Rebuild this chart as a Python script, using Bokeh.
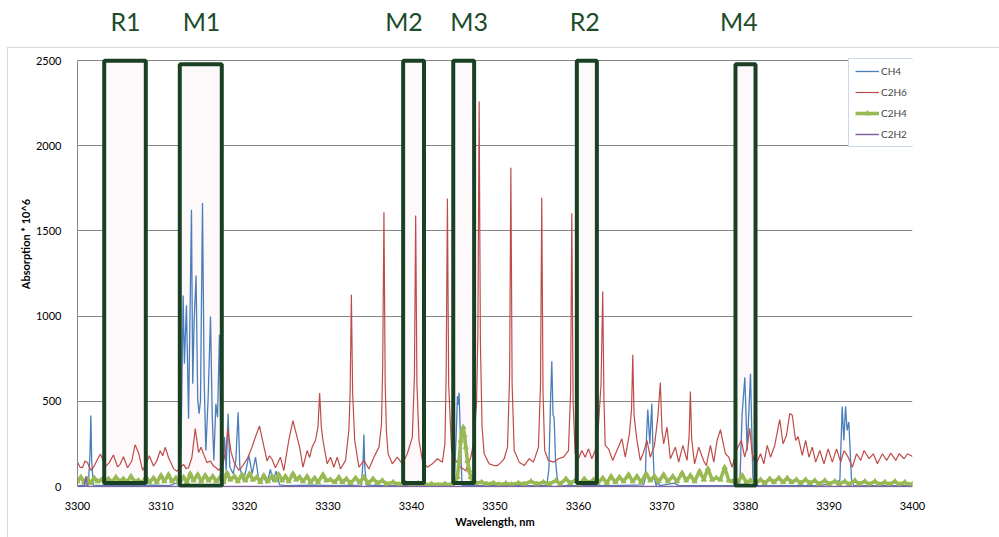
from bokeh.plotting import figure
from bokeh.models import Legend, LegendItem, FixedTicker, ColumnDataSource, Range1d
from bokeh.core.properties import value
from bokeh.embed import file_html
from bokeh.resources import INLINE

# ---------------- data ----------------
C2H6_X = [3300.0,3300.3,3300.6,3300.9,3301.2,3301.6,3302.0,3302.4,3302.75,3303.1,3303.4,3303.8,3304.3,3304.8,3305.1,3305.5,3306.0,3306.5,3306.9,3307.3,3307.8,3308.2,3308.6,3309.1,3309.5,3309.9,3310.2,3310.5,3310.9,3311.5,3311.9,3312.3,3312.7,3313.0,3313.3,3313.7,3314.1,3314.5,3314.8,3315.1,3315.5,3315.9,3316.3,3316.6,3316.9,3317.2,3317.5,3317.8,3318.0,3318.4,3318.7,3319.0,3319.3,3319.6,3319.9,3320.4,3320.9,3321.3,3321.8,3322.3,3322.7,3323.0,3323.3,3323.7,3324.0,3324.3,3324.7,3325.0,3325.3,3325.8,3326.2,3326.6,3327.0,3327.5,3327.8,3328.1,3328.5,3328.8,3329.0,3329.2,3329.4,3329.9,3330.3,3330.7,3331.1,3331.5,3332.1,3332.5,3332.65,3332.8,3332.95,3333.2,3333.7,3334.3,3334.9,3335.5,3336.1,3336.4,3336.55,3336.7,3336.85,3337.0,3337.2,3337.7,3338.3,3338.9,3339.5,3340.1,3340.35,3340.5,3340.65,3340.9,3341.3,3341.9,3342.5,3343.1,3343.7,3344.0,3344.15,3344.3,3344.45,3344.8,3345.3,3345.9,3346.5,3347.1,3347.5,3347.8,3347.95,3348.1,3348.25,3348.45,3348.7,3349.3,3349.9,3350.3,3350.7,3351.1,3351.5,3351.75,3351.9,3352.05,3352.3,3352.9,3353.5,3354.1,3354.6,3355.0,3355.2,3355.45,3355.6,3355.75,3355.95,3356.4,3357.0,3357.6,3358.2,3358.8,3359.05,3359.2,3359.35,3359.6,3360.0,3360.4,3360.8,3361.2,3361.6,3362.0,3362.4,3362.7,3362.9,3363.05,3363.2,3363.6,3364.1,3364.6,3365.2,3365.6,3366.1,3366.35,3366.5,3366.65,3367.0,3367.4,3367.8,3368.2,3368.6,3369.1,3369.5,3369.8,3370.0,3370.2,3370.6,3371.0,3371.6,3372.0,3372.5,3373.0,3373.25,3373.4,3373.55,3373.9,3374.4,3375.0,3375.3,3375.8,3376.2,3376.6,3377.0,3377.3,3377.6,3378.0,3378.4,3378.9,3379.5,3379.9,3380.2,3380.5,3380.8,3381.2,3381.8,3382.2,3382.6,3383.0,3383.5,3384.1,3384.5,3384.9,3385.3,3385.6,3386.0,3386.3,3386.8,3387.2,3387.6,3388.0,3388.4,3388.9,3389.4,3389.9,3390.4,3390.9,3391.4,3391.8,3392.3,3392.8,3393.3,3393.8,3394.2,3394.8,3395.3,3395.8,3396.4,3396.9,3397.4,3398.0,3398.4,3399.0,3399.4,3400.0]
C2H6_Y = [143,115,110,150,140,95,120,160,190,150,120,140,185,115,130,175,110,150,245,200,95,130,180,120,150,210,180,230,170,105,90,110,130,105,110,170,340,200,230,190,140,150,120,110,95,110,150,220,340,200,150,120,95,110,130,170,230,290,355,240,150,180,160,110,140,172,93,180,270,387,309,231,113,211,170,231,270,350,548,350,270,133,172,113,172,103,153,329,550,1125,550,270,113,153,103,172,231,360,700,1610,600,320,192,133,172,133,192,290,650,1590,600,270,153,113,133,163,143,250,650,1690,600,211,153,113,93,172,270,500,900,2260,850,350,192,133,123,123,140,163,231,650,1870,600,211,143,123,163,143,200,231,600,1694,550,211,153,143,163,172,211,550,1604,500,192,163,211,172,221,163,211,368,600,1144,500,241,221,153,211,280,172,309,450,773,420,270,153,202,270,172,241,407,610,330,250,348,163,231,143,241,153,300,557,280,133,231,150,123,241,143,270,334,260,192,172,113,211,270,172,231,342,192,123,192,133,241,172,241,393,250,299,428,418,270,293,182,270,172,231,143,211,133,221,143,221,143,211,172,113,192,153,211,163,192,133,192,153,196,153,192,163,192,176]

CH4_X = [3300.0,3301.3,3301.5,3301.6,3301.7,3301.9,3303.0,3305.0,3307.0,3309.0,3311.0,3312.1,3312.4,3312.65,3312.8,3313.05,3313.3,3313.65,3313.8,3313.97,3314.2,3314.4,3314.57,3314.73,3314.97,3315.17,3315.37,3315.65,3315.93,3316.13,3316.33,3316.57,3316.77,3317.0,3317.17,3317.33,3317.6,3317.8,3318.04,3318.24,3318.64,3318.96,3319.24,3319.44,3319.84,3320.2,3320.52,3320.92,3321.32,3321.72,3322.2,3322.7,3323.1,3323.4,3323.8,3324.2,3325.0,3328.0,3331.0,3334.0,3334.2,3334.3,3334.4,3334.6,3337.0,3340.0,3343.0,3345.1,3345.35,3345.5,3345.6,3345.7,3345.85,3346.05,3349.0,3352.0,3356.2,3356.45,3356.65,3356.8,3356.95,3357.08,3357.25,3357.44,3357.7,3360.0,3364.0,3367.8,3368.0,3368.15,3368.3,3368.54,3368.78,3368.9,3369.05,3369.3,3369.5,3369.7,3371.5,3372.0,3376.0,3379.1,3379.32,3379.6,3379.92,3380.2,3380.6,3380.88,3381.1,3385.0,3389.0,3391.3,3391.58,3391.78,3391.98,3392.17,3392.37,3392.7,3393.0,3396.0,3400.0]
CH4_Y = [5,8,200,417,150,8,5,8,5,8,5,25,230,1121,720,1063,398,1624,603,975,1238,505,427,505,1663,622,212,525,998,427,153,485,407,890,270,35,290,95,427,114,75,153,436,114,35,100,182,75,172,35,60,20,100,30,90,10,5,8,5,8,150,305,120,8,5,5,5,5,300,530,480,550,300,5,5,5,5,100,500,735,420,405,150,55,5,5,5,10,50,300,452,250,487,250,60,5,30,5,20,5,5,5,25,427,641,211,662,55,5,5,5,35,470,270,470,329,378,35,5,5,5]

C2H4_X = [3300.0,3300.4,3300.8,3301.2,3301.6,3302.0,3302.4,3302.9,3303.3,3303.7,3304.1,3304.6,3305.0,3305.5,3305.9,3306.4,3306.8,3307.3,3307.7,3308.2,3308.6,3309.1,3309.5,3310.0,3310.4,3310.9,3311.3,3311.8,3312.2,3312.7,3313.1,3313.5,3313.9,3314.4,3314.8,3315.3,3315.7,3316.2,3316.6,3317.1,3317.5,3317.9,3318.3,3318.8,3319.2,3319.7,3320.1,3320.6,3321.0,3321.5,3321.9,3322.3,3322.8,3323.3,3323.7,3324.1,3324.5,3324.9,3325.3,3325.8,3326.2,3326.6,3327.0,3327.5,3327.9,3328.4,3328.8,3329.4,3329.8,3330.3,3330.8,3331.3,3331.7,3332.2,3332.7,3333.3,3333.8,3334.3,3334.8,3335.4,3335.9,3336.5,3337.0,3337.8,3338.5,3339.3,3340.0,3340.8,3341.6,3342.4,3343.2,3344.0,3344.8,3345.2,3345.5,3345.7,3345.9,3346.05,3346.2,3346.35,3346.5,3346.7,3346.9,3347.1,3347.3,3347.7,3348.4,3349.0,3349.8,3350.5,3351.3,3352.0,3352.8,3353.5,3354.3,3355.0,3355.8,3356.5,3357.3,3357.8,3358.5,3359.0,3359.6,3360.1,3360.7,3361.2,3361.8,3362.3,3362.9,3363.4,3363.9,3364.4,3364.9,3365.4,3366.0,3366.5,3367.0,3367.5,3368.1,3368.6,3369.1,3369.6,3370.2,3370.7,3371.3,3371.8,3372.4,3372.9,3373.4,3373.9,3374.5,3375.0,3375.5,3376.0,3376.5,3377.0,3377.5,3378.0,3378.5,3379.0,3379.6,3380.1,3380.6,3381.2,3381.8,3382.3,3382.9,3383.4,3384.0,3384.5,3385.0,3385.5,3386.1,3386.6,3387.2,3387.7,3388.3,3388.8,3389.5,3390.0,3390.7,3391.2,3391.9,3392.4,3393.1,3393.6,3394.3,3394.8,3395.5,3396.0,3396.7,3397.2,3397.9,3398.4,3399.1,3399.6,3400.0]
C2H4_Y = [30,55,25,45,20,50,30,40,20,45,25,55,30,45,25,60,30,35,20,55,25,50,25,65,30,70,30,50,20,55,25,75,35,70,30,65,35,60,30,55,25,80,40,60,30,70,35,75,40,55,25,65,30,60,35,70,35,60,30,75,40,55,30,60,25,50,25,70,35,40,25,55,25,45,20,50,25,55,20,45,20,35,15,25,12,20,10,18,10,15,10,15,12,25,55,150,270,320,348,300,231,150,95,55,35,20,25,15,20,12,18,12,20,15,30,15,25,15,35,15,45,20,35,15,45,20,40,20,50,20,60,25,55,30,70,30,60,25,75,35,60,30,70,30,60,30,80,35,65,30,90,40,105,40,50,40,113,35,30,20,65,25,35,20,40,20,45,25,50,25,50,25,40,20,40,20,35,15,35,15,30,15,30,12,35,15,30,12,30,12,25,12,30,12,25,10,15]

C2H2_X = [3300.0, 3300.8, 3301.0, 3301.2, 3313.0, 3313.1, 3313.2, 3400.0]
C2H2_Y = [0, 0, 60, 0, 0, 15, 0, 0]

BOX_NAMES = ["R1", "M1", "M2", "M3", "R2", "M4"]
BOX_LEFT = [3303.2, 3312.25, 3339.0, 3345.0, 3359.8, 3378.8]
BOX_RIGHT = [3308.18, 3317.28, 3341.5, 3347.5, 3362.2, 3381.2]
BOX_TOP = [2498, 2478, 2498, 2498, 2498, 2478]
BOX_BOTTOM = [20, 5, 20, 20, 20, 5]
LABEL_X = [3305.75, 3314.85, 3339.1, 3346.9, 3360.75, 3379.2]
LABEL_Y = [2730, 2730, 2730, 2730, 2730, 2730]

X_TICKS = [3300, 3310, 3320, 3330, 3340, 3350, 3360, 3370, 3380, 3390, 3400]
Y_TICKS = [0, 500, 1000, 1500, 2000, 2500]

FONT = "Lato"
BOX_GREEN = "#1a4024"
TEXT_GREEN = "#1d4c2b"

# ---------------- layout geometry ----------------
FRAME_W = 835
FRAME_H = 487            # frame reaches the top of the canvas so the box labels fit
PX_PER_UNIT = 426 / 2500  # 0..2500 spans 426 px as in the reference
Y_START = -1 / PX_PER_UNIT
Y_END = Y_START + FRAME_H / PX_PER_UNIT

p = figure(frame_width=FRAME_W, frame_height=FRAME_H,
           min_border_left=77, min_border_right=87, min_border_top=0, min_border_bottom=50,
           x_range=Range1d(3300, 3400), y_range=Range1d(Y_START, Y_END),
           output_backend="svg", toolbar_location=None)
p.outline_line_color = None
p.background_fill_color = None
p.border_fill_color = None
p.styles = {
    "background-color": "white",
    "background-image": "linear-gradient(#d9d9d9,#d9d9d9), linear-gradient(#d9d9d9,#d9d9d9)",
    "background-repeat": "no-repeat, no-repeat",
    "background-position": "7px 47px, 7px 47px",
    "background-size": "992px 1px, 1px 490px",
}

p.xgrid.grid_line_color = None
p.ygrid.grid_line_color = "#868686"
p.ygrid.grid_line_width = 1

p.xaxis.ticker = FixedTicker(ticks=X_TICKS)
p.yaxis.ticker = FixedTicker(ticks=Y_TICKS)
for ax in (p.xaxis, p.yaxis):
    ax.axis_line_color = "#868686"
    ax.major_tick_line_color = None
    ax.minor_tick_line_color = None
    ax.major_label_text_font = FONT
    ax.major_label_text_font_size = "11px"
    ax.major_label_text_color = "#000000"
    ax.axis_label_text_font = FONT
    ax.axis_label_text_font_size = "11px"
    ax.axis_label_text_font_style = "bold"
    ax.axis_label_text_color = "#000000"
p.yaxis.bounds = (0, 2500)
p.xaxis.axis_line_color = None
p.xaxis.axis_label = "Wavelength, nm"
p.yaxis.axis_label = "Absorption * 10^6"
p.xaxis.major_label_standoff = 8
p.yaxis.major_label_standoff = 10
p.xaxis.axis_label_standoff = 2
p.yaxis.axis_label_standoff = 1

# box fills (under the spectra)
boxes = ColumnDataSource(dict(left=BOX_LEFT, right=BOX_RIGHT, top=BOX_TOP, bottom=BOX_BOTTOM))
p.quad(left="left", right="right", top="top", bottom="bottom", source=boxes,
       fill_color="#fdf9fb", line_color=None)

r_ch4 = p.line(CH4_X, CH4_Y, line_color="#4a7ebb", line_width=1.3)
r_c2h6 = p.line(C2H6_X, C2H6_Y, line_color="#be4b48", line_width=1.2)
r_c2h4 = p.line(C2H4_X, C2H4_Y, line_color="#98b954", line_width=3.6)
r_c2h4m = p.scatter(C2H4_X, C2H4_Y, marker="triangle", size=5, fill_color="#98b954", line_color="#98b954")
r_c2h2 = p.line(C2H2_X, C2H2_Y, line_color="#8064a2", line_width=1.5)

# box outlines on top
p.quad(left="left", right="right", top="top", bottom="bottom", source=boxes,
       fill_color=None, line_color=BOX_GREEN, line_width=4)

labels = ColumnDataSource(dict(x=LABEL_X, y=LABEL_Y, text=BOX_NAMES))
p.text(x="x", y="y", text="text", source=labels, text_align="center", text_baseline="middle",
       text_font=value(FONT), text_font_size="25px", text_color=TEXT_GREEN)

legend = Legend(items=[
    LegendItem(label="CH4", renderers=[r_ch4]),
    LegendItem(label="C2H6", renderers=[r_c2h6]),
    LegendItem(label="C2H4", renderers=[r_c2h4, r_c2h4m]),
    LegendItem(label="C2H2", renderers=[r_c2h2]),
], location=(771, 340), margin=0, padding=6, spacing=9, glyph_width=24, glyph_height=12,
   label_height=12, label_standoff=2, label_text_font=FONT, label_text_font_size="10px",
   border_line_color="#95b3d7", border_line_width=1, background_fill_color="white", background_fill_alpha=1)
p.add_layout(legend)

open("out.html", "w").write(file_html(p, INLINE))
